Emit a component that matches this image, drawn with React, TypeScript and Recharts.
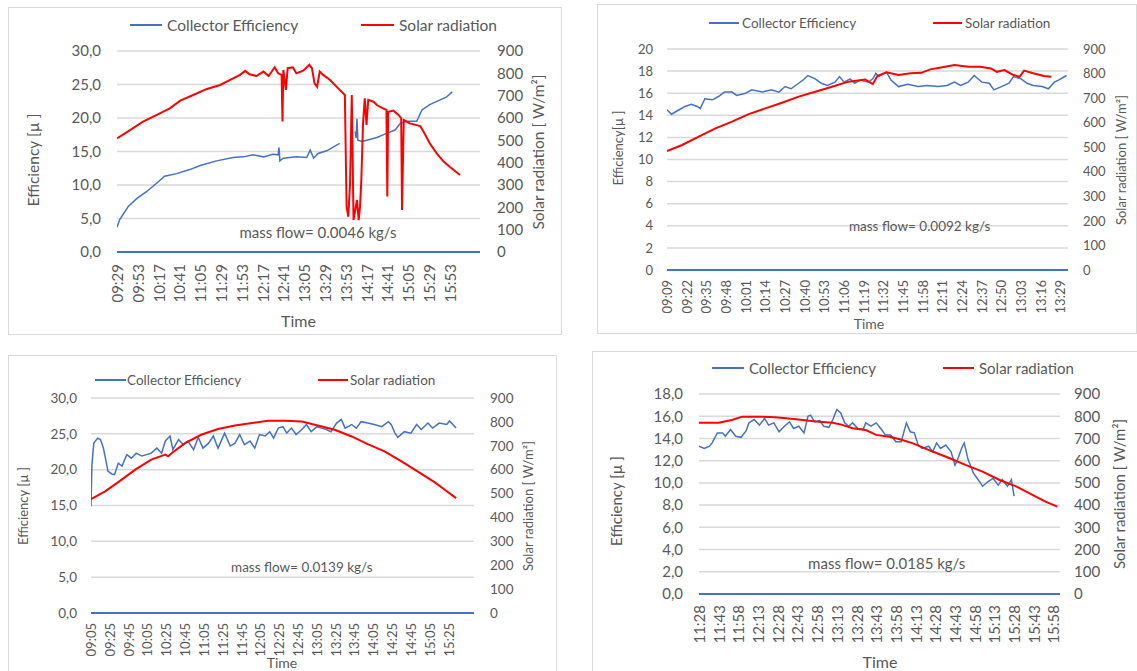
import React from 'react';
import { CartesianGrid, Legend, Line, LineChart, ReferenceDot, XAxis, YAxis } from 'recharts';

const BLUE = '#4472C4';
const RED = '#FF0000';
const GRID = '#D9D9D9';
const TEXT = '#595959';
const FONT = "Lato, 'Liberation Sans', sans-serif";

// ---------- panel 1: mass flow 0.0046 kg/s ----------
const p1Start = '09:29';
const p1Ticks = ['09:29', '09:53', '10:17', '10:41', '11:05', '11:29', '11:53', '12:17', '12:41',
  '13:05', '13:29', '13:53', '14:17', '14:41', '15:05', '15:29', '15:53'];
// minutes after start
const p1EffMin = [0, 3, 13, 23, 34, 46, 55, 69, 84, 96, 115, 134, 146, 157, 169, 180, 186, 187, 188, 192,
  207, 219, 223, 227, 232, 242, 250, 257, 265, 275, 276, 277, 278, 283, 300, 311, 321, 327, 334, 346,
  352, 361, 373, 380, 387];
const p1Eff = [3.7, 4.8, 6.8, 8.0, 9.0, 10.3, 11.3, 11.7, 12.3, 12.9, 13.6, 14.1, 14.2, 14.5, 14.2, 14.6,
  14.5, 15.6, 13.6, 14.0, 14.2, 14.1, 15.2, 14.0, 14.7, 15.1, 15.7, 16.2, null, 18.0, 17.0, 19.9, 16.7,
  16.5, 17.1, 17.7, 18.2, 19.2, 19.5, 19.5, 21.2, 22.0, 22.7, 23.1, 23.9];
const p1RadMin = [0, 15, 30, 46, 61, 73, 88, 103, 119, 130, 142, 148, 153, 161, 169, 175, 182, 186, 190,
  191, 192, 195, 197, 203, 207, 215, 222, 225, 228, 231, 234, 238, 246, 257, 263, 265, 267, 269, 271,
  273, 277, 279, 280.5, 282, 284, 286, 288, 290, 296, 300, 307, 311, 312, 313, 319, 325, 328, 329, 331,
  338, 350, 355, 361, 369, 377, 384, 396];
const p1Rad = [509, 546, 584, 614, 643, 678, 703, 729, 748, 770, 793, 811, 796, 788, 808, 788, 827, 800,
  793, 584, 815, 726, 823, 827, 800, 812, 838, 823, 755, 740, 808, 793, 770, 726, 703, 203, 158, 307,
  703, 143, 233, 143, 203, 322, 576, 688, 569, 681, 673, 658, 643, 636, 248, 628, 633, 614, 599, 188,
  591, 576, 564, 531, 487, 442, 405, 382, 345];

// ---------- panel 2: mass flow 0.0092 kg/s ----------
const p2Start = '09:09';
const p2Ticks = ['09:09', '09:22', '09:35', '09:48', '10:01', '10:14', '10:27', '10:40', '10:53', '11:06',
  '11:19', '11:32', '11:45', '11:58', '12:11', '12:24', '12:37', '12:50', '13:03', '13:16', '13:29'];
const p2EffMin = [0, 3, 8, 12, 16, 20, 22, 25, 30, 34, 38, 43, 46, 52, 56, 63, 69, 74, 78, 82, 87, 90, 93,
  98, 102, 106, 111, 114, 117, 121, 124, 128, 133, 136, 138, 140, 145, 148, 153, 159, 166, 172, 179,
  185, 190, 194, 199, 203, 208, 213, 216, 221, 226, 229, 234, 238, 242, 248, 252, 256, 259, 264];
const p2Eff = [14.5, 14.1, 14.5, 14.8, 15.0, 14.8, 14.6, 15.5, 15.4, 15.7, 16.1, 16.1, 15.8, 16.0, 16.3,
  16.1, 16.3, 16.1, 16.6, 16.4, 16.9, 17.2, 17.6, 17.3, 16.9, 16.7, 17.0, 17.5, 17.0, 17.3, 16.9, 17.2,
  17.0, 17.3, 17.8, 17.5, 17.9, 17.2, 16.6, 16.8, 16.6, 16.7, 16.6, 16.7, 17.0, 16.7, 17.0, 17.6, 17.0,
  16.9, 16.3, 16.6, 16.9, 17.5, 17.3, 16.9, 16.7, 16.6, 16.4, 17.0, 17.2, 17.6];
const p2RadMin = [0, 10, 21, 32, 43, 54, 65, 76, 87, 98, 109, 120, 131, 136, 139, 145, 153, 161, 168, 174,
  181, 190, 199, 207, 214, 218, 223, 229, 233, 236, 242, 249, 254];
const p2Rad = [484, 509, 543, 577, 604, 635, 658, 681, 706, 726, 746, 767, 776, 757, 790, 805, 794, 801,
  803, 817, 825, 835, 828, 828, 821, 807, 814, 794, 787, 812, 801, 790, 787];

// ---------- panel 3: mass flow 0.0139 kg/s ----------
const p3Start = '09:05';
const p3Ticks = ['09:05', '09:25', '09:45', '10:05', '10:25', '10:45', '11:05', '11:25', '11:45', '12:05',
  '12:25', '12:45', '13:05', '13:25', '13:45', '14:05', '14:25', '14:45', '15:05', '15:25'];
const p3EffMin = [0, 1, 3, 7, 10, 13, 16, 18, 22, 25, 29, 33, 38, 43, 48, 54, 59, 64, 70, 75, 79, 84, 87,
  93, 98, 103, 109, 114, 119, 125, 130, 135, 142, 148, 153, 158, 163, 169, 174, 179, 185, 190, 194, 199,
  204, 208, 213, 218, 224, 229, 234, 240, 245, 250, 255, 261, 266, 270, 277, 282, 287, 294, 301, 309,
  316, 319, 323, 326, 333, 340, 346, 351, 358, 363, 370, 378, 381, 388];
const p3Eff = [14.9, 20.7, 23.7, 24.4, 24.2, 23.1, 21.2, 19.8, 19.4, 19.3, 20.9, 20.5, 22.1, 21.6, 22.3,
  21.9, 22.1, 22.3, 23.0, 22.3, 24.0, 24.7, 22.8, 24.2, 23.5, 24.0, 22.8, 24.5, 23.0, 23.7, 24.7, 23.0,
  25.1, 23.3, 23.7, 24.9, 23.5, 24.0, 23.0, 24.9, 24.7, 25.3, 24.4, 25.8, 26.0, 25.1, 25.8, 24.9, 25.6,
  26.3, 25.3, 26.0, 25.8, 25.6, 25.3, 26.5, 27.0, 25.8, 26.3, 25.8, 26.7, 26.5, 26.3, 26.0, 26.7, 26.3,
  25.1, 24.5, 25.3, 25.1, 26.3, 25.6, 26.5, 25.8, 26.5, 26.3, 26.8, 25.8];
const p3RadMin = [0, 15, 29, 47, 64, 79, 82, 86, 100, 117, 135, 153, 171, 188, 206, 224, 241, 259, 277,
  294, 312, 330, 347, 365, 376, 388];
const p3Rad = [477, 509, 548, 600, 642, 663, 656, 670, 711, 746, 770, 785, 795, 805, 805, 802, 785, 767,
  739, 707, 677, 635, 593, 548, 516, 481];

// ---------- panel 4: mass flow 0.0185 kg/s ----------
const p4Start = '11:28';
const p4Ticks = ['11:28', '11:43', '11:58', '12:13', '12:28', '12:43', '12:58', '13:13', '13:28', '13:43',
  '13:58', '14:13', '14:28', '14:43', '14:58', '15:13', '15:28', '15:43', '15:58'];
const p4EffMin = [0, 4, 8, 10, 14, 18, 20, 24, 28, 32, 36, 38, 42, 46, 50, 53, 57, 61, 65, 69, 72, 76, 80,
  83, 85, 88, 92, 95, 99, 102, 105, 108, 111, 114, 117, 121, 125, 127, 131, 135, 139, 142, 146, 150,
  154, 158, 161, 164, 167, 170, 175, 178, 181, 184, 188, 192, 195, 197, 200, 202, 205, 209, 212, 216,
  220, 224, 228, 231, 235, 238, 240];
const p4Eff = [13.3, 13.1, 13.3, 13.6, 14.5, 14.5, 14.2, 14.8, 14.2, 14.1, 14.7, 15.4, 15.7, 15.2, 15.8,
  15.2, 15.4, 14.6, 15.1, 15.5, 14.9, 15.1, 14.5, 16.0, 16.1, 15.5, 15.6, 15.1, 15.0, 15.7, 16.6, 16.3,
  15.4, 15.1, 15.4, 14.9, 14.8, 15.4, 15.1, 15.4, 14.8, 14.3, 14.3, 13.7, 13.7, 15.4, 14.6, 14.5, 13.4,
  13.1, 13.3, 12.8, 13.6, 13.1, 13.4, 12.8, 11.6, 12.1, 13.1, 13.6, 12.1, 10.9, 10.4, 9.7, 10.1, 10.4,
  9.8, 10.3, 9.7, 10.3, 8.8];
const p4RadMin = [0, 15, 25, 33, 46, 58, 74, 89, 102, 109, 117, 127, 135, 145, 153, 163, 178, 191, 203,
  216, 229, 242, 254, 264, 273];
const p4Rad = [771, 771, 783, 798, 798, 795, 786, 776, 771, 761, 746, 738, 716, 708, 696, 678, 641, 611,
  581, 551, 513, 483, 446, 416, 393];

const radTicks = [0, 100, 200, 300, 400, 500, 600, 700, 800, 900];

const toMin = (s: string) => {
  const [h, m] = s.split(':').map(Number);
  return h * 60 + m;
};
const hhmm = (v: number) => {
  const h = Math.floor(v / 60);
  const m = Math.round(v - h * 60);
  return `${String(h).padStart(2, '0')}:${String(m).padStart(2, '0')}`;
};
const rows = (start: string, mins: number[], vals: (number | null)[]) =>
  mins.map((t, i) => ({ t: toMin(start) + t, v: vals[i] }));
const comma1 = (v: number) => v.toFixed(1).replace('.', ',');

type Cfg = {
  box: number[]; // outer left, top, width, height
  plot: number[]; // left, top, right, bottom (page px)
  start: string;
  span: number;
  ticks: string[];
  eff: { t: number; v: number | null }[];
  rad: { t: number; v: number | null }[];
  effTicks: number[];
  effFmt: (v: number) => string;
  fs: { y: number; x: number; legend: number; title: number; note: number; time: number };
  gaps: number[]; // left, right, x
  legend: { y: number; blue: number[]; blueText: number; red: number[]; redText: number };
  leftTitle: { x: number; y: number; text: string };
  rightTitle: { x: number; y: number };
  time: { x: number; y: number };
  note: { text: string; at: string; eff: number };
};

const TimeTick = (props: any) => {
  const { x, y, payload, fs } = props;
  return (
    <text x={x} y={y} transform={`rotate(-90 ${x} ${y})`} textAnchor="end" dominantBaseline="central"
      fontSize={fs} fill={TEXT} fontFamily={FONT}>
      {hhmm(payload.value)}
    </text>
  );
};

function Panel({ c }: { c: Cfg }) {
  const [bx, by, bw, bh] = c.box;
  const ox = bx + 1;
  const oy = by + 1;
  const W = bw - 2;
  const H = bh - 2;
  const [pl, pt, pr, pb] = c.plot;
  const s = toMin(c.start);
  const lg = c.legend;

  const vTitle = (x: number, y: number, text: string) => () => (
    <text x={x - ox} y={y - oy} transform={`rotate(-90 ${x - ox} ${y - oy})`} textAnchor="middle"
      dominantBaseline="central" fontSize={c.fs.title} fill={TEXT} fontFamily={FONT}>
      {text}
    </text>
  );

  return (
    <div style={{ position: 'absolute', left: bx, top: by, width: W, height: H, border: `1px solid ${GRID}`, background: '#fff' }}>
      <LineChart width={W} height={H} margin={{ top: pt - oy, right: 0, bottom: 0, left: 0 }}>
        <CartesianGrid yAxisId="eff" vertical={false} stroke={GRID} strokeWidth={1.5} />
        <XAxis dataKey="t" type="number" domain={[s, s + c.span]} allowDataOverflow ticks={c.ticks.map(toMin)}
          interval={0} height={oy + H - pb} tickSize={0} tickMargin={c.gaps[2]} tickLine={false}
          axisLine={{ stroke: BLUE, strokeWidth: 2 }} tick={(p: any) => <TimeTick {...p} fs={c.fs.x} />}
          label={{
            content: () => (
              <text x={c.time.x - ox} y={c.time.y - oy} textAnchor="middle" dominantBaseline="central"
                fontSize={c.fs.time} fill={TEXT} fontFamily={FONT}>Time</text>
            ),
          }} />
        <YAxis yAxisId="eff" orientation="left" width={pl - ox} domain={[0, c.effTicks[c.effTicks.length - 1]]}
          ticks={c.effTicks} interval={0} axisLine={false} tickLine={false} tickSize={0} tickMargin={c.gaps[0]}
          tickFormatter={c.effFmt} tick={{ fontSize: c.fs.y, fill: TEXT, fontFamily: FONT }}
          label={{ content: vTitle(c.leftTitle.x, c.leftTitle.y, c.leftTitle.text) }} />
        <YAxis yAxisId="rad" orientation="right" width={ox + W - pr} domain={[0, 900]} ticks={radTicks}
          interval={0} axisLine={false} tickLine={false} tickSize={0} tickMargin={c.gaps[1]}
          tick={{ fontSize: c.fs.y, fill: TEXT, fontFamily: FONT }}
          label={{ content: vTitle(c.rightTitle.x, c.rightTitle.y, 'Solar radiation [ W/m²]') }} />
        <Line yAxisId="eff" data={c.eff} dataKey="v" name="Collector Efficiency" stroke={BLUE} strokeWidth={1.5}
          dot={false} isAnimationActive={false} connectNulls={false} />
        <Line yAxisId="rad" data={c.rad} dataKey="v" name="Solar radiation" stroke={RED} strokeWidth={2}
          dot={false} isAnimationActive={false} />
        <ReferenceDot yAxisId="eff" x={toMin(c.note.at)} y={c.note.eff} r={1} fill="none" stroke="none"
          label={{ value: c.note.text, position: 'center', fontSize: c.fs.note, fill: TEXT, fontFamily: FONT }} />
        <Legend layout="vertical" align="center" verticalAlign="middle"
          wrapperStyle={{ left: 0, top: lg.y - oy - 12, width: W, height: 24 }}
          content={() => (
            <div style={{ position: 'relative', width: W, height: 24, fontFamily: FONT, fontSize: c.fs.legend, color: TEXT }}>
              <div style={{ position: 'absolute', left: lg.blue[0] - ox, top: 11, width: lg.blue[1] - lg.blue[0], height: 2, background: BLUE }} />
              <span style={{ position: 'absolute', left: lg.blueText - ox, top: 0, lineHeight: '24px', whiteSpace: 'nowrap' }}>Collector Efficiency</span>
              <div style={{ position: 'absolute', left: lg.red[0] - ox, top: 11, width: lg.red[1] - lg.red[0], height: 2, background: RED }} />
              <span style={{ position: 'absolute', left: lg.redText - ox, top: 0, lineHeight: '24px', whiteSpace: 'nowrap' }}>Solar radiation</span>
            </div>
          )} />
      </LineChart>
    </div>
  );
}

const panels: Cfg[] = [
  {
    box: [8, 7, 554, 328], plot: [117, 51, 480, 252], start: p1Start, span: 419, ticks: p1Ticks,
    eff: rows(p1Start, p1EffMin, p1Eff), rad: rows(p1Start, p1RadMin, p1Rad),
    effTicks: [0, 5, 10, 15, 20, 25, 30], effFmt: comma1,
    fs: { y: 15, x: 15, legend: 15.5, title: 15.5, note: 15, time: 16 }, gaps: [16, 17, 12],
    legend: { y: 25, blue: [130, 162], blueText: 167, red: [361, 394], redText: 399 },
    leftTitle: { x: 33, y: 160, text: 'Efficiency [µ ]' }, rightTitle: { x: 538, y: 152 },
    time: { x: 298.5, y: 320 }, note: { text: 'mass flow= 0.0046 kg/s', at: '13:21', eff: 2.9 },
  },
  {
    box: [597, 4, 540, 330], plot: [667, 49, 1068, 270], start: p2Start, span: 265, ticks: p2Ticks,
    eff: rows(p2Start, p2EffMin, p2Eff), rad: rows(p2Start, p2RadMin, p2Rad),
    effTicks: [0, 2, 4, 6, 8, 10, 12, 14, 16, 18, 20], effFmt: (v: number) => String(v),
    fs: { y: 13, x: 13, legend: 13.5, title: 13, note: 13.5, time: 14 }, gaps: [14, 15, 10],
    legend: { y: 23, blue: [709, 739], blueText: 742, red: [933, 962], redText: 965 },
    leftTitle: { x: 618, y: 148, text: 'Efficiency[µ ]' }, rightTitle: { x: 1121, y: 160 },
    time: { x: 869, y: 323 }, note: { text: 'mass flow= 0.0092 kg/s', at: '11:56', eff: 4.0 },
  },
  {
    box: [8, 355, 549, 340], plot: [91, 398, 474, 613], start: p3Start, span: 407, ticks: p3Ticks,
    eff: rows(p3Start, p3EffMin, p3Eff), rad: rows(p3Start, p3RadMin, p3Rad),
    effTicks: [0, 5, 10, 15, 20, 25, 30], effFmt: comma1,
    fs: { y: 13.5, x: 13, legend: 13.5, title: 13, note: 13.5, time: 14 }, gaps: [14, 16, 10],
    legend: { y: 380, blue: [95, 126], blueText: 127, red: [318, 348], redText: 350 },
    leftTitle: { x: 23, y: 506, text: 'Efficiency [µ ]' }, rightTitle: { x: 528, y: 506 },
    time: { x: 282, y: 662 }, note: { text: 'mass flow= 0.0139 kg/s', at: '12:49', eff: 6.45 },
  },
  {
    box: [592, 351, 560, 340], plot: [699, 394, 1060, 594], start: p4Start, span: 275, ticks: p4Ticks,
    eff: rows(p4Start, p4EffMin, p4Eff), rad: rows(p4Start, p4RadMin, p4Rad),
    effTicks: [0, 2, 4, 6, 8, 10, 12, 14, 16, 18], effFmt: comma1,
    fs: { y: 15, x: 15, legend: 15, title: 15, note: 15, time: 16 }, gaps: [16, 14, 11],
    legend: { y: 368, blue: [712, 744], blueText: 749, red: [943, 974], redText: 979 },
    leftTitle: { x: 616, y: 501, text: 'Efficiency [µ ]' }, rightTitle: { x: 1119, y: 494 },
    time: { x: 880, y: 661 }, note: { text: 'mass flow= 0.0185 kg/s', at: '13:51', eff: 2.76 },
  },
];

export default function App() {
  return (
    <div style={{ position: 'absolute', left: 0, top: 0, width: 1137, height: 671, overflow: 'hidden', background: '#fff' }}>
      {panels.map((c, i) => (
        <Panel key={i} c={c} />
      ))}
    </div>
  );
}
